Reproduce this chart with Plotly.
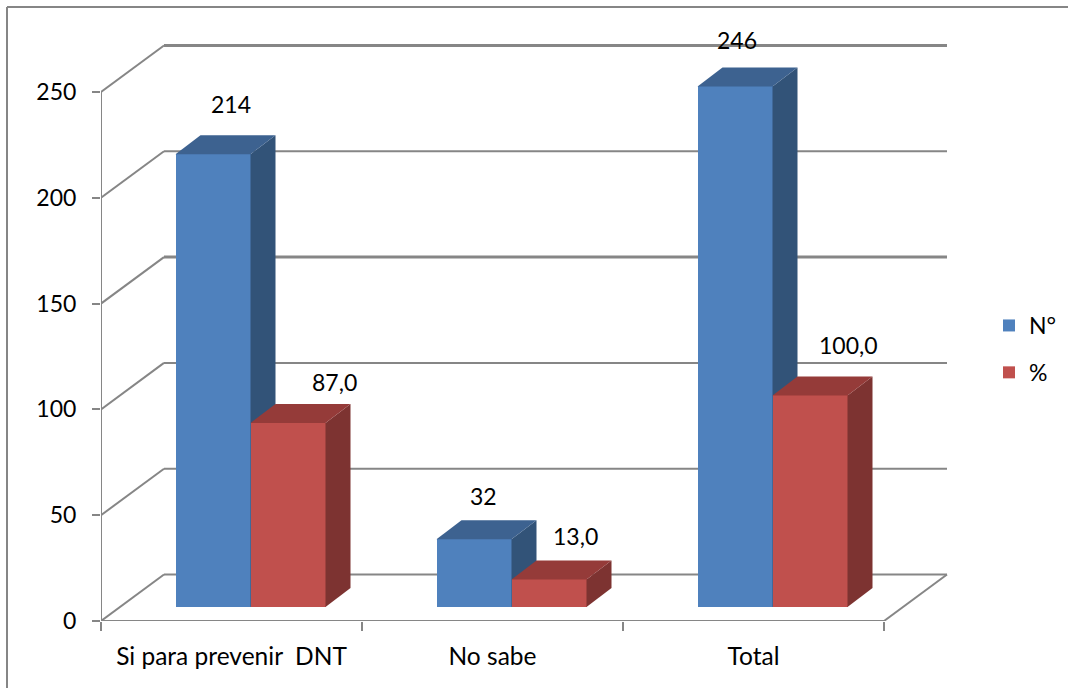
import plotly.graph_objects as go

# Survey results
categories = ["Si para prevenir\u00a0\u00a0DNT", "No sabe", "Total"]
counts = [214, 32, 246]
percents = [87.0, 13.0, 100.0]
y_ticks = [0, 50, 100, 150, 200, 250]

# Plot box and scale, in pixels
WIDTH, HEIGHT = 1068, 688
LEFT, RIGHT, TOP, BOTTOM = 101, 950, 20, 621
LEGEND_LEFT, LEGEND_TOP = 989, 304
PX_PER_CAT = 261.0
PX_PER_UNIT = 2.116
X_MAX = (RIGHT - LEFT) / PX_PER_CAT
Y_MAX = (BOTTOM - TOP) / PX_PER_UNIT


def dx(px):
    return px / PX_PER_CAT


def dy(px):
    return px / PX_PER_UNIT


# Oblique projection: the wall sits behind the axis plane, the bars in between
WALL_DX, WALL_DY = dx(63), dy(46.5)
BAR_DX, BAR_DY = dx(19), dy(14)
DEPTH_DX, DEPTH_DY = dx(25), dy(19)
BAR_W = dx(75)

GRID = "#868686"
FONT = dict(family="Lato, Carlito, sans-serif", size=23, color="#000000")
CAT_FONT = dict(family="Lato, Carlito, sans-serif", size=24.5, color="#000000")


def line(x0, y0, x1, y1, width=2):
    return dict(type="line", xref="x", yref="y", x0=x0, y0=y0, x1=x1, y1=y1,
                layer="below", line=dict(color=GRID, width=width))


shapes = []
for v in y_ticks:
    w = 3 if v in (150, 250) else 2
    shapes.append(line(0, v, WALL_DX, v + WALL_DY, 2))
    shapes.append(line(WALL_DX, v + WALL_DY, 3 + WALL_DX, v + WALL_DY, w))
shapes += [
    line(0, 0, 0, 250, 2),
    line(0, 0, 3, 0, 2),
    line(3, 0, 3 + WALL_DX, WALL_DY, 2),
]
# Chart frame along the left and top edges
px = lambda p: (p - LEFT) / (RIGHT - LEFT)
py = lambda p: (BOTTOM - p) / (BOTTOM - TOP)
for x0, y0, x1, y1 in [(7, 7, WIDTH, 7), (7, 7, 7, HEIGHT)]:
    shapes.append(dict(type="line", xref="paper", yref="paper", x0=px(x0), y0=py(y0),
                       x1=px(x1), y1=py(y1), layer="below",
                       line=dict(color=GRID, width=2)))


def series(name, values, slot, front, side, top, xa, ya):
    """Front faces as bars, side and top faces as filled polygons on the same axes."""
    traces = []
    lefts = [i + 0.5 + BAR_DX + slot * BAR_W for i in range(len(values))]
    traces.append(go.Bar(
        x=[l + BAR_W / 2 for l in lefts], y=values, base=BAR_DY, width=BAR_W,
        name=name, legendgroup=name, marker=dict(color=front, line=dict(width=0)),
        xaxis=xa, yaxis=ya))
    for l, v in zip(lefts, values):
        r = l + BAR_W
        t = BAR_DY + v
        traces.append(go.Scatter(
            x=[r, r + DEPTH_DX, r + DEPTH_DX, r, r],
            y=[BAR_DY, BAR_DY + DEPTH_DY, t + DEPTH_DY, t, BAR_DY],
            mode="lines", fill="toself", fillcolor=side, line=dict(width=0),
            showlegend=False, hoverinfo="skip", xaxis=xa, yaxis=ya))
        traces.append(go.Scatter(
            x=[l, l + DEPTH_DX, r + DEPTH_DX, r, l],
            y=[t, t + DEPTH_DY, t + DEPTH_DY, t, t],
            mode="lines", fill="toself", fillcolor=top, line=dict(width=0),
            showlegend=False, hoverinfo="skip", xaxis=xa, yaxis=ya))
    return traces


fig = go.Figure()
# The red series lives on an overlaid axis pair so it stacks above the blue depth faces
fig.add_traces(series("N°", counts, -1, "#4F81BD", "#325378", "#3D6290", "x", "y"))
fig.add_traces(series("%", percents, 0, "#C0504D", "#7D3331", "#953B39", "x2", "y2"))

# Value labels, with their hand-placed pixel offsets from the top of each bar
label_shift = {
    "N°": [(18, 50), (9, 43), (2, 46)],
    "%": [(46, 41), (26, 43), (38, 50)],
}
annotations = []
for name, values, slot, fmt in [("N°", counts, -1, "{:.0f}"), ("%", percents, 0, "{:.1f}")]:
    for i, v in enumerate(values):
        sx, sy = label_shift[name][i]
        annotations.append(dict(
            x=i + 0.5 + BAR_DX + (slot + 0.5) * BAR_W, y=BAR_DY + v, xref="x", yref="y",
            text=fmt.format(v).replace(".", ","), showarrow=False, font=FONT,
            xshift=sx, yshift=sy, xanchor="center", yanchor="middle"))

axis_x = dict(range=[0, X_MAX], showgrid=False, zeroline=False, showline=False)
axis_y = dict(range=[0, Y_MAX], showgrid=False, zeroline=False, showline=False)

fig.update_layout(
    width=WIDTH, height=HEIGHT, autosize=False,
    margin=dict(l=LEFT, r=WIDTH - RIGHT, t=TOP, b=HEIGHT - BOTTOM, pad=0),
    paper_bgcolor="white", plot_bgcolor="rgba(0,0,0,0)",
    barmode="overlay", bargap=0, font=FONT, shapes=shapes, annotations=annotations,
    hovermode=False,
    legend=dict(xref="container", yref="container",
                x=LEGEND_LEFT / WIDTH, xanchor="left",
                y=1 - LEGEND_TOP / HEIGHT, yanchor="top", tracegroupgap=14,
                font=FONT, bgcolor="rgba(0,0,0,0)", itemclick=False),
    xaxis=dict(**axis_x,
               tickmode="array", tickvals=[i + 0.5 for i in range(3)], ticktext=categories,
               ticks="", ticklen=0, tickangle=0, tickfont=CAT_FONT,
               ticklabelstandoff=18,
               minor=dict(tickmode="array", tickvals=[0, 1, 2, 3], ticks="outside",
                          ticklen=9, tickwidth=2, tickcolor=GRID)),
    yaxis=dict(**axis_y,
               tickmode="array", tickvals=y_ticks, ticks="outside", ticklen=8,
               tickwidth=2, tickcolor=GRID, tickfont=FONT, ticklabelstandoff=11),
    xaxis2=dict(**axis_x, overlaying="x", visible=False),
    yaxis2=dict(**axis_y, overlaying="y", visible=False),
)

fig.write_html("out.html")
